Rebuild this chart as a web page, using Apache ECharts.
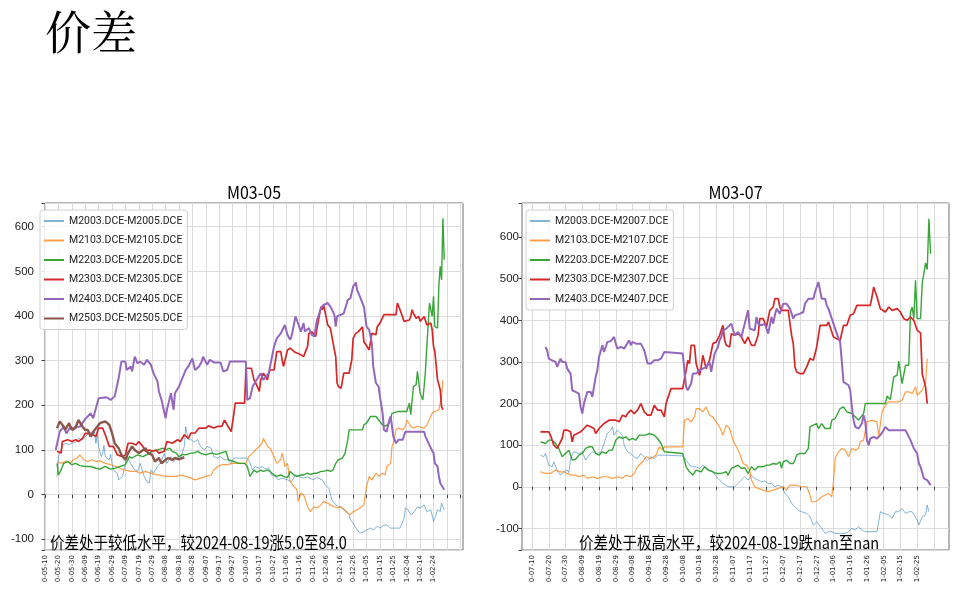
<!DOCTYPE html>
<html><head><meta charset="utf-8">
<script src="https://cdn.jsdelivr.net/npm/echarts@6/dist/echarts.min.js"></script>
<style>html,body{margin:0;padding:0;background:#fff}#c{width:963px;height:601px}</style>
</head><body><div id="c"></div>
<script>
// ---------------- text ----------------
const PAGE_TITLE = '价差';
const LEFT_TITLE = 'M03-05';
const RIGHT_TITLE = 'M03-07';
const LEFT_NOTE = '价差处于较低水平，较2024-08-19涨5.0至84.0';
const RIGHT_NOTE = '价差处于极高水平，较2024-08-19跌nan至nan';

// ---------------- time axis (day = calendar days after 2000-05-10, season-aligned) ----------------
const LEFT_RANGE = [0, 312];      // visible span, left chart
const RIGHT_RANGE = [55, 310];    // visible span, right chart
const LEFT_TICK_FIRST = 0,  LEFT_TICK_LAST_LABEL = 290;   // 0-05-10 ... 1-02-24, every 10 days
const RIGHT_TICK_FIRST = 61, RIGHT_TICK_LAST_LABEL = 291; // 0-07-10 ... 1-02-25, every 10 days
const LEFT_Y = [-124, 653];
const RIGHT_Y = [-152, 682];

const LEFT_NAMES = ['M2003.DCE-M2005.DCE','M2103.DCE-M2105.DCE','M2203.DCE-M2205.DCE','M2303.DCE-M2305.DCE','M2403.DCE-M2405.DCE','M2503.DCE-M2505.DCE'];
const RIGHT_NAMES = ['M2003.DCE-M2007.DCE','M2103.DCE-M2107.DCE','M2203.DCE-M2207.DCE','M2303.DCE-M2307.DCE','M2403.DCE-M2407.DCE'];

// ---------------- data: [day, spread] ----------------
const L_2003 = [[9,40],[10,85],[13,108],[15,115],[18,112],[20,115],[23,118],[25,126],[28,122],[30,130],[33,138],[35,130],[37,140],[38,115],[39,135],[40,108],[42,85],[43,92],[44,110],[45,85],[48,78],[49,90],[50,70],[51,55],[54,48],[55,33],[58,41],[60,70],[61,85],[64,70],[66,58],[69,52],[71,70],[74,41],[76,29],[78,26],[79,55],[81,48],[84,63],[86,70],[89,92],[91,70],[94,85],[96,74],[99,85],[101,80],[104,108],[105,152],[107,123],[109,123],[111,118],[114,123],[116,108],[119,100],[121,108],[124,104],[126,85],[129,82],[131,85],[134,78],[136,78],[139,70],[141,82],[145,82],[150,82],[152,78],[155,55],[157,63],[160,59],[162,63],[165,57],[167,60],[169,44],[172,41],[174,33],[177,37],[181,33],[184,29],[187,44],[190,40],[193,37],[196,40],[200,33],[203,38],[207,33],[209,22],[212,14],[214,-12],[217,-23],[219,-27],[222,-30],[224,-34],[227,-45],[228,-56],[230,-64],[233,-79],[235,-86],[238,-83],[240,-79],[243,-75],[245,-79],[248,-71],[250,-75],[253,-68],[255,-68],[258,-75],[265,-75],[268,-53],[269,-30],[271,-34],[273,-45],[275,-41],[278,-27],[280,-30],[283,-23],[285,-38],[288,-34],[290,-60],[291,-53],[293,-34],[295,-38],[296,-19],[298,-34]];
const L_2103 = [[9,74],[12,70],[16,76],[19,70],[21,78],[24,82],[26,89],[29,78],[32,74],[35,78],[38,74],[41,76],[45,70],[49,67],[53,63],[56,59],[60,55],[64,52],[68,52],[71,48],[75,52],[79,48],[83,44],[86,44],[90,41],[94,41],[98,41],[101,44],[105,41],[109,37],[112,33],[116,37],[120,41],[124,44],[126,55],[129,63],[132,67],[136,67],[140,70],[144,70],[147,70],[150,70],[152,85],[155,93],[157,100],[160,108],[162,115],[163,126],[164,122],[166,108],[168,104],[171,85],[173,70],[176,78],[177,93],[178,82],[179,63],[181,70],[182,48],[183,29],[186,18],[188,11],[189,-15],[191,3],[193,0],[196,-27],[198,-38],[201,-27],[203,-30],[206,-23],[208,-15],[211,-19],[213,-23],[216,-27],[218,-30],[221,-27],[223,-34],[226,-41],[228,-45],[230,-38],[233,-34],[235,-30],[238,-23],[240,18],[242,41],[244,33],[247,48],[249,41],[252,48],[254,44],[255,63],[258,70],[259,108],[260,115],[262,145],[264,149],[267,145],[269,153],[270,167],[273,153],[275,149],[278,153],[283,149],[285,156],[289,182],[291,186],[294,190],[296,220],[297,257]];
const L_2203 = [[9,70],[10,44],[12,55],[14,70],[17,74],[20,67],[23,70],[26,65],[30,63],[34,63],[38,59],[41,57],[45,63],[49,57],[53,60],[56,63],[60,67],[63,85],[65,82],[69,89],[73,85],[76,89],[80,97],[84,100],[88,104],[90,100],[93,104],[95,97],[98,93],[100,85],[103,90],[105,89],[109,93],[111,93],[114,97],[116,93],[120,89],[124,93],[128,90],[131,93],[135,97],[137,78],[141,74],[145,70],[149,70],[151,63],[153,41],[156,55],[158,50],[161,55],[163,52],[166,55],[168,52],[171,44],[173,41],[176,44],[178,41],[181,38],[183,52],[186,44],[188,41],[191,44],[193,44],[196,48],[198,45],[201,48],[203,48],[206,52],[208,52],[211,55],[213,52],[215,55],[217,70],[219,78],[222,82],[224,93],[226,123],[227,145],[229,145],[233,145],[237,145],[238,156],[240,160],[243,175],[247,175],[249,167],[252,156],[254,153],[257,160],[259,182],[263,186],[268,186],[270,186],[272,205],[273,179],[274,182],[275,242],[277,246],[278,276],[279,272],[280,227],[282,212],[283,242],[284,279],[285,332],[286,332],[287,429],[289,399],[290,444],[291,376],[293,373],[294,470],[295,511],[296,481],[297,619],[298,526]];
const L_2303 = [[9,97],[12,93],[13,119],[17,123],[20,119],[23,123],[25,119],[28,126],[30,137],[34,137],[38,130],[40,149],[43,149],[45,134],[48,108],[51,108],[54,89],[58,85],[60,89],[62,115],[65,115],[68,111],[70,119],[73,108],[75,97],[78,100],[80,97],[83,100],[85,93],[89,97],[91,119],[95,115],[99,123],[101,119],[104,134],[107,126],[109,138],[112,138],[115,149],[120,149],[122,154],[126,149],[129,153],[132,153],[134,167],[136,156],[139,141],[141,182],[142,205],[149,205],[150,283],[154,283],[156,257],[158,245],[160,231],[161,257],[163,272],[166,257],[167,272],[168,279],[171,279],[173,320],[176,320],[177,302],[178,287],[181,324],[183,328],[186,320],[188,317],[191,313],[193,309],[196,332],[197,361],[199,365],[202,354],[203,373],[206,421],[207,414],[208,425],[211,380],[213,373],[214,376],[216,324],[217,309],[218,250],[219,242],[221,238],[222,242],[223,272],[224,276],[227,272],[228,276],[229,302],[230,350],[232,361],[234,365],[237,376],[238,343],[239,339],[242,324],[243,328],[244,361],[247,358],[248,376],[250,384],[253,403],[262,403],[263,429],[264,432],[265,414],[268,388],[269,384],[272,391],[273,399],[274,414],[275,406],[277,395],[279,399],[280,388],[283,399],[285,380],[288,384],[289,369],[290,332],[291,320],[293,257],[294,253],[295,235],[296,197],[297,190]];
const L_2403 = [[8,100],[11,141],[14,152],[16,137],[19,152],[21,145],[24,152],[26,152],[30,169],[34,182],[36,171],[40,216],[46,218],[49,212],[52,220],[55,261],[57,298],[60,298],[61,279],[64,287],[65,276],[67,309],[69,294],[71,298],[74,291],[76,302],[79,291],[81,272],[84,253],[85,231],[87,212],[90,171],[91,190],[94,227],[96,190],[97,227],[100,242],[102,257],[105,279],[107,287],[110,305],[112,279],[115,287],[117,298],[118,309],[121,291],[123,302],[126,296],[131,296],[133,276],[136,279],[138,298],[150,298],[151,212],[153,216],[155,242],[158,257],[161,272],[163,257],[165,264],[167,272],[168,287],[171,332],[173,350],[176,361],[178,373],[179,380],[181,358],[183,347],[184,354],[187,399],[188,391],[191,365],[193,384],[194,365],[197,373],[199,358],[201,354],[203,391],[206,417],[208,425],[211,429],[213,421],[216,403],[217,376],[218,399],[221,403],[223,406],[226,436],[228,440],[230,466],[232,475],[233,458],[235,444],[238,421],[239,399],[240,376],[242,369],[243,354],[244,339],[245,287],[247,250],[249,242],[250,220],[252,182],[253,145],[255,141],[257,167],[258,175],[259,153],[260,130],[262,115],[263,111],[264,123],[265,126],[267,123],[268,126],[269,141],[270,145],[273,141],[283,141],[284,130],[288,104],[290,93],[291,70],[293,63],[294,41],[295,26],[296,22],[298,11]];
const L_2503 = [[9,149],[11,164],[14,152],[15,145],[18,160],[20,145],[23,152],[25,167],[28,152],[30,145],[32,145],[34,130],[36,141],[39,152],[41,160],[45,164],[48,156],[50,138],[52,115],[55,104],[57,89],[60,78],[62,93],[65,108],[67,100],[70,93],[72,97],[75,104],[77,93],[80,89],[82,74],[85,82],[87,70],[90,78],[92,82],[95,78],[97,82],[100,79],[104,84]];

const R_2003 = [[66,76],[68,72],[69,80],[71,52],[73,48],[74,60],[76,40],[78,28],[80,36],[82,40],[83,34],[84,68],[86,84],[89,80],[91,84],[93,64],[95,76],[97,84],[99,80],[102,82],[104,104],[106,128],[108,136],[109,144],[110,124],[112,136],[115,124],[116,100],[118,84],[120,80],[122,72],[124,68],[126,80],[128,72],[130,64],[132,72],[134,68],[136,76],[140,76],[151,74],[153,64],[155,52],[157,48],[159,48],[161,44],[163,52],[165,46],[167,40],[169,36],[171,24],[173,16],[175,8],[178,0],[180,0],[182,0],[184,8],[186,16],[188,24],[190,16],[192,28],[194,20],[196,16],[198,12],[200,14],[202,8],[204,8],[206,0],[208,4],[209,8],[210,0],[212,-16],[214,-24],[216,-40],[218,-48],[220,-56],[222,-60],[225,-64],[227,-72],[229,-92],[231,-84],[232,-84],[234,-100],[236,-112],[238,-108],[240,-108],[242,-112],[245,-112],[248,-112],[250,-108],[252,-100],[254,-104],[256,-96],[258,-104],[260,-108],[264,-108],[267,-108],[269,-60],[271,-64],[274,-68],[276,-76],[278,-60],[280,-60],[282,-52],[284,-64],[286,-60],[288,-60],[291,-80],[292,-92],[294,-72],[296,-68],[297,-44],[298,-60]];
const R_2103 = [[66,36],[69,32],[72,32],[75,40],[78,36],[80,36],[84,28],[87,28],[89,24],[92,28],[94,20],[97,24],[100,20],[103,24],[106,24],[109,20],[112,24],[115,20],[117,28],[120,24],[122,32],[124,48],[127,60],[129,72],[132,68],[135,76],[137,96],[139,88],[140,96],[143,96],[151,96],[152,160],[154,164],[156,156],[158,168],[159,188],[161,188],[163,180],[165,192],[167,172],[169,168],[171,156],[173,144],[175,124],[177,148],[179,140],[181,112],[183,96],[185,80],[187,56],[189,52],[191,40],[192,16],[194,0],[196,-4],[199,-8],[202,-12],[205,-8],[208,-4],[211,0],[213,-8],[215,4],[218,4],[222,0],[225,0],[227,-20],[228,-36],[230,-36],[232,-32],[234,-24],[236,-20],[238,-16],[240,-24],[241,12],[242,68],[244,84],[246,92],[248,88],[250,72],[252,92],[254,88],[256,92],[257,108],[259,112],[261,156],[264,160],[267,156],[268,120],[270,180],[272,196],[274,204],[280,204],[282,208],[284,228],[286,228],[288,224],[290,240],[291,220],[294,232],[296,248],[297,308]];
const R_2203 = [[66,108],[69,104],[71,112],[73,112],[75,104],[77,92],[79,72],[81,80],[83,88],[85,64],[87,66],[89,76],[91,80],[93,92],[95,96],[97,96],[99,80],[101,76],[103,84],[105,80],[107,88],[109,88],[111,112],[113,120],[115,116],[117,120],[119,112],[121,116],[123,112],[125,124],[129,124],[131,128],[134,124],[136,116],[138,104],[140,84],[141,80],[151,80],[153,48],[155,36],[157,28],[159,40],[162,36],[164,48],[166,40],[169,36],[171,32],[174,32],[177,36],[178,28],[180,44],[182,48],[184,52],[186,44],[188,46],[190,32],[192,48],[194,40],[196,48],[199,48],[201,52],[203,52],[205,56],[207,54],[209,60],[210,44],[211,60],[213,64],[215,56],[217,56],[218,64],[219,76],[221,80],[224,80],[226,92],[227,144],[229,148],[231,152],[232,140],[234,152],[236,140],[239,140],[240,160],[242,164],[245,188],[247,192],[249,180],[252,176],[254,168],[256,160],[257,164],[259,176],[260,200],[272,200],[273,218],[275,210],[277,264],[279,268],[280,302],[282,248],[284,292],[286,292],[287,420],[288,432],[289,404],[290,496],[291,404],[293,404],[294,488],[295,492],[296,538],[297,522],[298,644],[299,560]];
const R_2303 = [[66,132],[69,132],[71,132],[72,124],[74,100],[76,92],[77,100],[79,116],[80,136],[82,136],[84,132],[85,108],[86,124],[88,128],[90,132],[92,140],[94,148],[96,144],[98,140],[99,128],[101,140],[104,152],[107,160],[111,160],[113,156],[115,172],[117,168],[118,176],[120,184],[122,176],[124,184],[126,200],[128,180],[130,172],[132,172],[134,196],[136,184],[138,184],[140,168],[141,200],[144,236],[151,236],[153,280],[154,304],[155,296],[156,340],[158,340],[159,296],[161,268],[162,288],[163,316],[165,284],[167,304],[169,344],[171,348],[173,364],[175,388],[176,352],[177,340],[179,336],[180,368],[182,364],[184,368],[186,360],[188,344],[190,360],[192,340],[194,340],[196,364],[197,404],[199,404],[201,384],[203,424],[205,432],[206,452],[208,452],[209,432],[210,424],[214,424],[215,420],[216,364],[217,344],[218,288],[219,276],[221,272],[223,272],[225,288],[227,308],[229,304],[231,336],[233,388],[237,388],[238,396],[239,400],[240,372],[241,360],[243,356],[245,352],[247,388],[249,388],[251,412],[253,416],[255,436],[263,436],[264,456],[265,480],[266,468],[267,456],[269,428],[272,420],[274,432],[276,424],[279,428],[281,420],[283,404],[285,400],[287,408],[289,400],[291,376],[293,370],[294,272],[295,268],[296,240],[297,200]];
const R_2403 = [[69,336],[70,328],[71,308],[73,304],[75,300],[76,288],[77,292],[78,308],[79,300],[81,300],[82,284],[84,272],[85,232],[87,228],[89,224],[90,192],[91,176],[92,200],[94,228],[96,228],[97,216],[98,240],[99,264],[100,280],[101,312],[102,316],[103,340],[104,324],[105,328],[106,348],[108,350],[110,360],[111,344],[112,332],[114,336],[116,332],[117,336],[119,352],[120,340],[121,348],[123,344],[126,344],[128,328],[130,296],[132,296],[134,304],[136,304],[138,308],[140,324],[141,320],[151,320],[152,316],[153,240],[154,232],[156,248],[157,272],[159,272],[161,280],[163,284],[165,288],[167,300],[168,276],[170,320],[172,336],[173,352],[174,360],[175,376],[177,380],[180,392],[182,364],[184,372],[186,360],[188,392],[190,424],[191,380],[192,380],[194,376],[195,408],[196,392],[198,388],[200,392],[202,368],[204,408],[205,392],[206,412],[207,428],[209,416],[211,440],[213,440],[215,428],[217,404],[218,412],[221,416],[223,420],[224,440],[226,452],[229,452],[230,468],[232,492],[233,472],[234,452],[236,452],[237,436],[238,428],[240,404],[241,392],[243,368],[244,356],[245,348],[247,252],[250,244],[251,232],[252,192],[253,160],[254,144],[256,140],[258,152],[259,172],[260,156],[261,112],[262,100],[263,116],[265,120],[267,116],[269,124],[271,136],[272,144],[274,136],[284,136],[285,132],[287,112],[289,92],[291,80],[292,56],[293,48],[294,52],[295,20],[297,16],[299,4]];

const LEFT_DATA = [L_2003, L_2103, L_2203, L_2303, L_2403, L_2503];
const RIGHT_DATA = [R_2003, R_2103, R_2203, R_2303, R_2403];

// ---------------- styles ----------------
const COLORS = ['rgba(31,119,180,0.55)','rgba(255,127,14,0.75)','rgba(44,160,44,0.95)','#d62728','#9467bd','#8c564b'];
const WIDTHS = [1, 1.2, 1.4, 1.7, 2, 2.4];
const GRID_LINE = '#dcdcdc';
const TEXT = '#222';

function dayLabel(day) {
  const d = new Date(Date.UTC(2000, 4, 10) + day * 864e5);
  return String(d.getUTCFullYear()).slice(-1) + '-' +
    String(d.getUTCMonth() + 1).padStart(2, '0') + '-' + String(d.getUTCDate()).padStart(2, '0');
}

function makeX(gridIndex, range, tickFirst, lastLabel) {
  const cats = [];
  for (let d = range[0]; d <= range[1]; d++) cats.push(dayLabel(d));
  const isTick = i => { const d = i + range[0]; return d >= tickFirst && (d - tickFirst) % 10 === 0; };
  return {
    type: 'category', gridIndex, data: cats, boundaryGap: false,
    axisLine: { show: false },
    axisTick: { show: true, length: 3.5, interval: i => isTick(i), lineStyle: { color: '#444' } },
    axisLabel: { interval: i => isTick(i) && i + range[0] <= lastLabel, rotate: 90, fontSize: 7, margin: 5,
      color: TEXT, fontFamily: 'DejaVu Sans' },
    splitLine: { show: true, interval: i => isTick(i), lineStyle: { color: GRID_LINE, width: 1 } }
  };
}
function makeY(gridIndex, ext, margin) {
  return {
    type: 'value', gridIndex, min: ext[0], max: ext[1], splitNumber: 8,
    axisLine: { show: false },
    axisTick: { show: true, length: 3.5, lineStyle: { color: '#444' } },
    axisLabel: { fontSize: 11.5, color: TEXT, margin, fontFamily: 'Liberation Sans',
      formatter: v => (v % 100 === 0 ? String(v) : '') },
    splitLine: { show: true, lineStyle: { color: GRID_LINE, width: 1 } }
  };
}
function makeSeries(names, data, axis, range) {
  return names.map((n, i) => ({
    type: 'line', name: n, xAxisIndex: axis, yAxisIndex: axis,
    data: data[i].map(p => [p[0] - range[0], p[1]]),
    symbol: 'none', showSymbol: false, color: COLORS[i],
    lineStyle: { width: WIDTHS[i], color: COLORS[i] }, z: 2 + i
  }));
}
function makeLegend(names, left) {
  return {
    data: names.map(n => ({ name: n, icon: 'rect' })),
    orient: 'vertical', left, top: 210, padding: [4, 5, 4, 4], itemGap: 5.5,
    itemWidth: 20, itemHeight: 2, backgroundColor: 'rgba(255,255,255,0.85)',
    borderColor: '#cfcfcf', borderWidth: 1, borderRadius: 3,
    textStyle: { fontSize: 10.5, lineHeight: 14, color: TEXT, fontFamily: 'Roboto' }
  };
}

const chart = echarts.init(document.getElementById('c'), null, { renderer: 'canvas' });
chart.setOption({
  animation: false,
  backgroundColor: '#fff',
  grid: [
    { left: 45, top: 203, width: 418, height: 347, show: true, borderColor: '#6f6f6f', borderWidth: 1, containLabel: false },
    { left: 522, top: 203, width: 427, height: 347, show: true, borderColor: '#6f6f6f', borderWidth: 1, containLabel: false }
  ],
  xAxis: [makeX(0, LEFT_RANGE, LEFT_TICK_FIRST, LEFT_TICK_LAST_LABEL), makeX(1, RIGHT_RANGE, RIGHT_TICK_FIRST, RIGHT_TICK_LAST_LABEL)],
  yAxis: [makeY(0, LEFT_Y, 11), makeY(1, RIGHT_Y, 3)],
  legend: [makeLegend(LEFT_NAMES, 40), makeLegend(RIGHT_NAMES, 526)],
  series: [...makeSeries(LEFT_NAMES, LEFT_DATA, 0, LEFT_RANGE), ...makeSeries(RIGHT_NAMES, RIGHT_DATA, 1, RIGHT_RANGE)],
  graphic: [
    { type: 'text', x: 45, y: 32, style: { text: PAGE_TITLE, fontSize: 46, fill: '#000', verticalAlign: 'middle',
      fontFamily: "'Noto Serif CJK SC', serif" } },
    { type: 'text', x: 254, y: 192, scaleY: 1.1, style: { text: LEFT_TITLE, fontSize: 16, fill: '#000', align: 'center', verticalAlign: 'middle',
      fontFamily: "'Noto Sans CJK SC'" } },
    { type: 'text', x: 735.5, y: 192, scaleY: 1.1, style: { text: RIGHT_TITLE, fontSize: 16, fill: '#000', align: 'center', verticalAlign: 'middle',
      fontFamily: "'Noto Sans CJK SC'" } },
    { type: 'text', x: 50, y: 543, z: 100, scaleY: 1.15, style: { text: LEFT_NOTE, fontSize: 14.5, fill: '#000', verticalAlign: 'middle',
      fontFamily: "'Noto Sans CJK SC'" } },
    { type: 'text', x: 579, y: 543, z: 100, scaleY: 1.15, style: { text: RIGHT_NOTE, fontSize: 14.5, fill: '#000', verticalAlign: 'middle',
      fontFamily: "'Noto Sans CJK SC'" } }
  ]
});
</script></body></html>
